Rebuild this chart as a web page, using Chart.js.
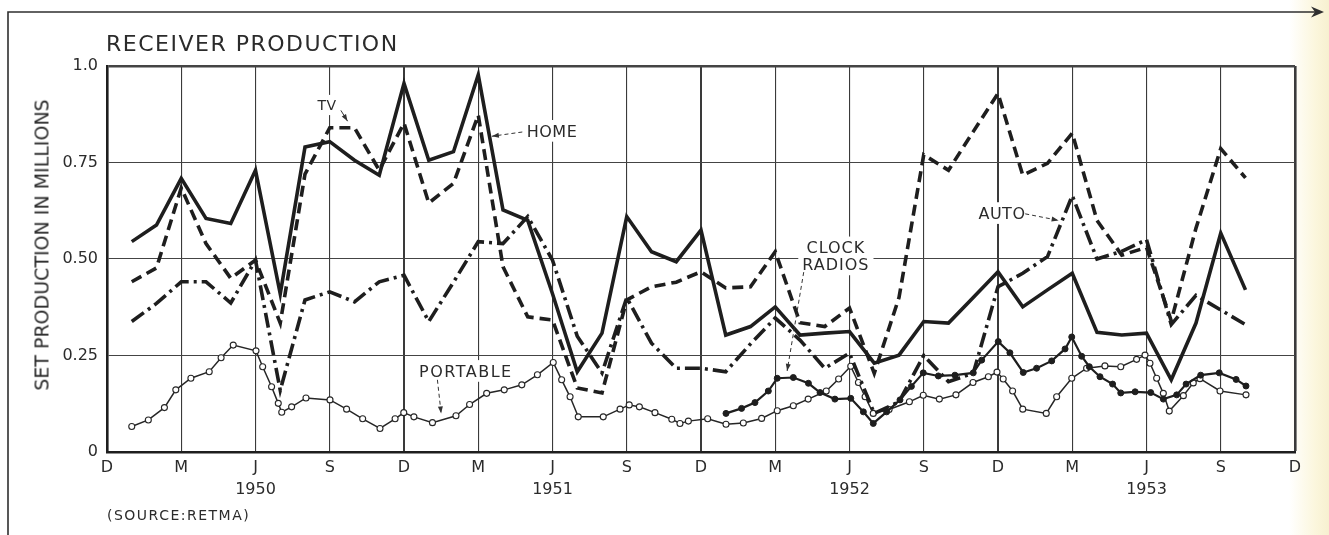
<!DOCTYPE html>
<html>
<head>
<meta charset="utf-8">
<title>Receiver production</title>
<script src="https://cdn.jsdelivr.net/npm/chart.js@4.4.0/dist/chart.umd.min.js"></script>
<style>
  html, body { margin: 0; padding: 0; }
  body {
    width: 1329px; height: 535px; overflow: hidden;
    font-family: "DejaVu Sans", sans-serif; color: #2b2b2b;
    background: linear-gradient(to right, #ffffff 0%, #ffffff 97%, #fbf6dc 99%, #f7f0d0 100%);
  }
  #wrap { position: relative; width: 1329px; height: 535px; }
  canvas { position: absolute; left: 0; top: 0; }
  .txt { position: absolute; white-space: nowrap; line-height: 1; }
  #title { left: 106px; top: 33px; font-size: 22px; letter-spacing: 1.5px; }
  #ytitle { left: 42px; top: 245px; font-size: 19px; transform: translate(-50%, -50%) rotate(-90deg); }
  #source { left: 107px; top: 508px; font-size: 14px; letter-spacing: 1.5px; }
</style>
</head>
<body>
<div id="wrap">
  <canvas id="chart" width="1329" height="535"></canvas>
  <div class="txt" id="title">RECEIVER PRODUCTION</div>
  <div class="txt" id="ytitle">SET PRODUCTION IN MILLIONS</div>
  <div class="txt" id="source">(SOURCE:RETMA)</div>
</div>
<script>
// x is counted in months: 0 = Dec 1949, 48 = Dec 1953
const months = [1, 2, 3, 4, 5, 6, 7, 8, 9, 10, 11, 12,
  13, 14, 15, 16, 17, 18, 19, 20, 21, 22, 23, 24,
  25, 26, 27, 28, 29, 30, 31, 32, 33, 34, 35, 36,
  37, 38, 39, 40, 41, 42, 43, 44, 45, 46];

// set production, millions
const home = [0.545, 0.588, 0.709, 0.605, 0.592, 0.73, 0.41, 0.79, 0.804, 0.756, 0.717, 0.955,
  0.756, 0.778, 0.977, 0.627, 0.60, 0.41, 0.208, 0.308, 0.61, 0.519, 0.493, 0.575,
  0.303, 0.325, 0.376, 0.303, 0.308, 0.312, 0.23, 0.251, 0.338, 0.334, 0.40, 0.467,
  0.376, 0.42, 0.463, 0.31, 0.303, 0.308, 0.187, 0.334, 0.567, 0.42];

const tv = [0.441, 0.477, 0.684, 0.54, 0.45, 0.497, 0.334, 0.72, 0.84, 0.84, 0.73, 0.852,
  0.645, 0.696, 0.873, 0.48, 0.35, 0.342, 0.166, 0.153, 0.394, 0.428, 0.44, 0.467,
  0.425, 0.428, 0.519, 0.335, 0.325, 0.373, 0.204, 0.40, 0.77, 0.73, 0.83, 0.929,
  0.717, 0.748, 0.826, 0.60, 0.51, 0.53, 0.34, 0.58, 0.786, 0.71];

const auto = [0.338, 0.385, 0.441, 0.441, 0.386, 0.497, 0.16, 0.394, 0.415, 0.389, 0.441, 0.458,
  0.338, 0.44, 0.545, 0.54, 0.61, 0.497, 0.30, 0.205, 0.40, 0.282, 0.217, 0.217,
  0.208, 0.28, 0.347, 0.29, 0.217, 0.256, 0.10, 0.13, 0.25, 0.182, 0.204, 0.428,
  0.463, 0.506, 0.664, 0.50, 0.52, 0.55, 0.33, 0.406, 0.368, 0.33];

// portable and clock radios are plotted at finer steps
const portableX = [1.0, 1.67, 2.32, 2.78, 3.39, 4.13, 4.61, 5.10, 6.02, 6.29,
  6.65, 6.92, 7.06, 7.46, 8.04, 9.01, 9.68, 10.33, 11.03, 11.64,
  11.99, 12.40, 13.15, 14.10, 14.65, 15.34, 16.05, 16.76, 17.39, 18.03,
  18.37, 18.71, 19.04, 20.05, 20.73, 21.10, 21.51, 22.14, 22.82, 23.15,
  23.49, 24.27, 25.01, 25.71, 26.45, 27.08, 27.73, 28.33, 29.06, 29.56,
  30.05, 30.36, 30.63, 30.96, 31.6, 32.42, 32.98, 33.63, 34.30, 34.99,
  35.61, 35.96, 36.21, 36.59, 37.0, 37.95, 38.37, 38.98, 39.58, 40.32,
  40.96, 41.6, 41.94, 42.14, 42.41, 42.68, 42.92, 43.49, 43.89, 44.16,
  44.97, 46.02];
const portableY = [0.066, 0.083, 0.115, 0.161, 0.191, 0.208, 0.244, 0.277, 0.262, 0.221,
  0.169, 0.126, 0.103, 0.117, 0.14, 0.135, 0.111, 0.086, 0.061, 0.086,
  0.102, 0.091, 0.076, 0.094, 0.123, 0.152, 0.161, 0.174, 0.2, 0.232,
  0.187, 0.143, 0.091, 0.091, 0.111, 0.122, 0.117, 0.102, 0.085, 0.074,
  0.080, 0.086, 0.072, 0.075, 0.087, 0.107, 0.12, 0.137, 0.158, 0.189,
  0.222, 0.18, 0.143, 0.10, 0.11, 0.13, 0.147, 0.137, 0.148, 0.18,
  0.195, 0.207, 0.189, 0.158, 0.111, 0.10, 0.143, 0.191, 0.217, 0.223,
  0.221, 0.24, 0.251, 0.23, 0.191, 0.152, 0.106, 0.146, 0.179, 0.19,
  0.158, 0.148];

const clockX = [25.01, 25.64, 26.18, 26.72, 27.08, 27.73, 28.34, 28.81, 29.41, 30.05,
  30.56, 30.96, 31.50, 32.04, 32.5, 32.98, 33.59, 34.26, 35.0, 35.34,
  36.01, 36.48, 37.02, 37.56, 38.17, 38.71, 38.98, 39.38, 39.69, 40.12,
  40.63, 40.96, 41.54, 42.17, 42.68, 43.22, 43.6, 44.19, 44.94, 45.62,
  46.02];
const clockY = [0.10, 0.113, 0.128, 0.158, 0.191, 0.193, 0.178, 0.154, 0.137, 0.139,
  0.104, 0.074, 0.104, 0.135, 0.17, 0.205, 0.197, 0.199, 0.205, 0.238,
  0.286, 0.257, 0.206, 0.217, 0.236, 0.267, 0.298, 0.248, 0.221, 0.195,
  0.176, 0.153, 0.156, 0.154, 0.137, 0.148, 0.176, 0.199, 0.205, 0.188,
  0.171];

const xTickLetters = ["D", "M", "J", "S"];
const years = ["1950", "1951", "1952", "1953"];
const yTickLabels = ["0", "0.25", "0.50", "0.75", "1.0"];

const ink = "#1e1e1e";
const textInk = "#2b2b2b";

const pts = (xs, ys) => xs.map((x, i) => ({ x: x, y: ys[i] }));

// labels on the plot, placed in data units: [month, value]
const notes = [
  { lines: ["TV"], at: [8.89, 0.899], size: 14, spacing: 0.5, from: [9.45, 0.885], to: [9.72, 0.857], dashed: false },
  { lines: ["HOME"], at: [17.98, 0.832], size: 16, spacing: 0.5, from: [16.78, 0.829], to: [15.55, 0.818], dashed: true },
  { lines: ["CLOCK", "RADIOS"], at: [29.45, 0.508], size: 16, spacing: 1, from: [28.15, 0.466], to: [27.48, 0.21], dashed: true },
  { lines: ["AUTO"], at: [36.16, 0.619], size: 16, spacing: 0.5, from: [37.1, 0.617], to: [38.45, 0.6], dashed: true },
  { lines: ["PORTABLE"], at: [14.5, 0.21], size: 16, spacing: 1.5, from: [13.35, 0.187], to: [13.5, 0.10], dashed: true }
];

function arrowHead(c, x1, y1, x2, y2) {
  const a = Math.atan2(y2 - y1, x2 - x1);
  c.beginPath();
  c.moveTo(x2, y2);
  c.lineTo(x2 - 7 * Math.cos(a) + 2.5 * Math.sin(a), y2 - 7 * Math.sin(a) - 2.5 * Math.cos(a));
  c.lineTo(x2 - 7 * Math.cos(a) - 2.5 * Math.sin(a), y2 - 7 * Math.sin(a) + 2.5 * Math.cos(a));
  c.closePath();
  c.fill();
}

const notesPlugin = {
  id: "notes",
  beforeDraw(chart) {
    // page frame with the arrow along the top
    const c = chart.ctx;
    c.save();
    c.strokeStyle = "#2f2f2f";
    c.fillStyle = "#2f2f2f";
    c.lineWidth = 1.6;
    c.beginPath();
    c.moveTo(8, 535);
    c.lineTo(8, 12);
    c.lineTo(1316, 12);
    c.stroke();
    c.beginPath();
    c.moveTo(1324, 12);
    c.lineTo(1311, 6.5);
    c.lineTo(1315, 12);
    c.lineTo(1311, 17.5);
    c.closePath();
    c.fill();
    c.restore();
  },
  beforeDatasetsDraw(chart) {
    const c = chart.ctx;
    const sx = chart.scales.x, sy = chart.scales.y;
    c.save();
    notes.forEach(n => {
      const px = sx.getPixelForValue(n.at[0]);
      const py = sy.getPixelForValue(n.at[1]);
      const gap = n.size + 1;
      c.font = n.size + 'px "DejaVu Sans"';
      c.letterSpacing = n.spacing + "px";
      const w = Math.max(...n.lines.map(t => c.measureText(t).width));
      const h = (n.lines.length - 1) * gap + n.size * 0.73;
      c.fillStyle = "#ffffff";
      c.fillRect(px - w / 2 - 4, py - h / 2 - 5, w + 8, h + 10);
      c.fillStyle = textInk;
      c.textAlign = "center";
      c.textBaseline = "alphabetic";
      n.lines.forEach((t, i) => {
        const cy = py - ((n.lines.length - 1) * gap) / 2 + i * gap;
        c.fillText(t, px, cy + n.size * 0.73 / 2);
      });
    });
    c.restore();
  },
  afterDatasetsDraw(chart) {
    const c = chart.ctx;
    const sx = chart.scales.x, sy = chart.scales.y;
    c.save();
    c.strokeStyle = "#333333";
    c.fillStyle = "#333333";
    c.lineWidth = 1;
    notes.forEach(n => {
      const x1 = sx.getPixelForValue(n.from[0]), y1 = sy.getPixelForValue(n.from[1]);
      const x2 = sx.getPixelForValue(n.to[0]), y2 = sy.getPixelForValue(n.to[1]);
      c.setLineDash(n.dashed ? [4, 3] : []);
      c.beginPath();
      c.moveTo(x1, y1);
      c.lineTo(x2, y2);
      c.stroke();
      c.setLineDash([]);
      arrowHead(c, x1, y1, x2, y2);
    });
    c.restore();
  }
};

Chart.defaults.font.family = '"DejaVu Sans", sans-serif';

new Chart(document.getElementById("chart"), {
  type: "line",
  data: {
    datasets: [
      {
        label: "Home",
        data: pts(months, home),
        borderColor: ink, borderWidth: 3.6, pointRadius: 0
      },
      {
        label: "TV",
        data: pts(months, tv),
        borderColor: ink, borderWidth: 3.6, borderDash: [11, 6], pointRadius: 0
      },
      {
        label: "Auto",
        data: pts(months, auto),
        borderColor: ink, borderWidth: 3.6, borderDash: [15, 5, 3, 5], pointRadius: 0
      },
      {
        label: "Clock radios",
        data: pts(clockX, clockY),
        borderColor: ink, borderWidth: 2.2,
        pointRadius: 3, pointBackgroundColor: ink, pointBorderColor: ink, pointBorderWidth: 1
      },
      {
        label: "Portable",
        data: pts(portableX, portableY),
        borderColor: "#262626", borderWidth: 1.5,
        pointRadius: 3, pointBackgroundColor: "#ffffff", pointBorderColor: "#262626", pointBorderWidth: 1.1
      }
    ]
  },
  options: {
    responsive: false,
    animation: false,
    layout: { padding: { top: 66, right: 34, bottom: 0, left: 0 } },
    plugins: {
      legend: { display: false },
      tooltip: { enabled: false }
    },
    elements: {
      line: { tension: 0, borderJoinStyle: "miter", borderCapStyle: "butt" }
    },
    scales: {
      x: {
        type: "linear",
        min: 0,
        max: 48,
        afterFit: s => { s.height = 83; },
        ticks: {
          stepSize: 3,
          autoSkip: false,
          maxRotation: 0,
          padding: 5,
          color: textInk,
          font: { size: 16, lineHeight: "22px" },
          callback: v => {
            const letter = xTickLetters[(v / 3) % 4];
            if (v % 12 === 6) return [letter, years[Math.floor(v / 12)]];
            return letter;
          }
        },
        grid: {
          drawTicks: false,
          color: "#3a3a3a",
          lineWidth: ctx => {
            const v = ctx.tick ? ctx.tick.value : 1;
            if (v === 48) return 2.6;
            return v % 12 === 0 ? 2 : 1.1;
          }
        },
        border: { color: ink, width: 2.6 }
      },
      y: {
        min: 0,
        max: 1,
        afterFit: s => { s.width = 107; },
        ticks: {
          stepSize: 0.25,
          padding: 9,
          color: textInk,
          font: { size: 16 },
          callback: (v, i) => yTickLabels[i]
        },
        grid: {
          drawTicks: false,
          color: "#444444",
          lineWidth: ctx => (ctx.tick && ctx.tick.value === 1 ? 2.4 : 1.1)
        },
        border: { color: ink, width: 2.6 }
      }
    }
  },
  plugins: [notesPlugin]
});
</script>
</body>
</html>
